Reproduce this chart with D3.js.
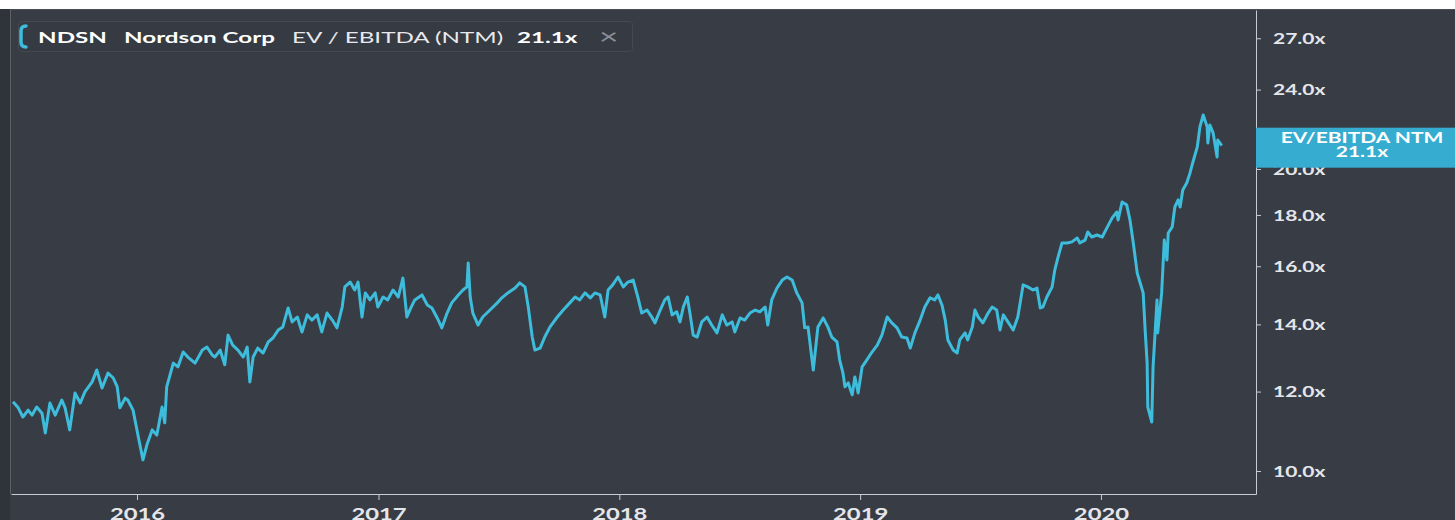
<!DOCTYPE html>
<html>
<head>
<meta charset="utf-8">
<script src="https://cdn.jsdelivr.net/npm/d3@7"></script>
<style>
  html, body { margin: 0; padding: 0; background: #383c45; overflow: hidden; }
  svg { display: block; }
  text { font-family: Lato, "Open Sans", sans-serif; }
</style>
</head>
<body>
<svg id="chart" width="1455" height="520"></svg>
<script>
// NDSN EV / EBITDA (NTM)
const dates = [
  "2015-06-27","2015-07-05","2015-07-12","2015-07-20","2015-07-26","2015-08-02","2015-08-10","2015-08-15",
  "2015-08-22","2015-08-30","2015-09-09","2015-09-14","2015-09-21","2015-09-29","2015-10-07","2015-10-14",
  "2015-10-25","2015-11-01","2015-11-09","2015-11-18","2015-11-26","2015-12-02","2015-12-06","2015-12-14",
  "2015-12-18","2015-12-26","2016-01-03","2016-01-10","2016-01-16","2016-01-24","2016-01-31","2016-02-08",
  "2016-02-12","2016-02-15","2016-02-25","2016-03-03","2016-03-11","2016-03-18","2016-03-29","2016-04-09",
  "2016-04-16","2016-04-24","2016-04-28","2016-05-06","2016-05-13","2016-05-18","2016-05-25","2016-06-02",
  "2016-06-10","2016-06-16","2016-06-20","2016-06-25","2016-07-02","2016-07-10","2016-07-18","2016-07-25",
  "2016-08-02","2016-08-09","2016-08-17","2016-08-23","2016-08-31","2016-09-07","2016-09-15","2016-09-22",
  "2016-09-30","2016-10-07","2016-10-15","2016-10-23","2016-10-30","2016-11-07","2016-11-11","2016-11-19",
  "2016-11-26","2016-12-01","2016-12-07","2016-12-12","2016-12-19","2016-12-27","2016-12-31","2017-01-08",
  "2017-01-15","2017-01-23","2017-01-31","2017-02-07","2017-02-13","2017-02-19","2017-02-25","2017-03-08",
  "2017-03-16","2017-03-23","2017-03-31","2017-04-07","2017-04-15","2017-04-22","2017-05-02","2017-05-09",
  "2017-05-15","2017-05-17","2017-05-20","2017-05-24","2017-06-01","2017-06-08","2017-06-19","2017-06-30",
  "2017-07-07","2017-07-16","2017-07-27","2017-08-03","2017-08-11","2017-08-16","2017-08-22","2017-08-26",
  "2017-09-03","2017-09-10","2017-09-18","2017-09-29","2017-10-08","2017-10-18","2017-10-26","2017-11-02",
  "2017-11-10","2017-11-18","2017-11-25","2017-12-03","2017-12-10","2017-12-15","2017-12-22","2017-12-30",
  "2018-01-07","2018-01-14","2018-01-22","2018-01-29","2018-02-04","2018-02-12","2018-02-20","2018-02-24",
  "2018-03-04","2018-03-11","2018-03-16","2018-03-22","2018-03-29","2018-04-03","2018-04-08","2018-04-14",
  "2018-04-18","2018-04-23","2018-04-29","2018-05-06","2018-05-14","2018-05-21","2018-05-29","2018-06-06",
  "2018-06-13","2018-06-21","2018-06-25","2018-07-03","2018-07-10","2018-07-18","2018-07-26","2018-08-02",
  "2018-08-10","2018-08-14","2018-08-20","2018-08-28","2018-09-05","2018-09-12","2018-09-20","2018-09-27",
  "2018-10-05","2018-10-09","2018-10-14","2018-10-22","2018-10-29","2018-11-06","2018-11-13","2018-11-19",
  "2018-11-27","2018-12-01","2018-12-06","2018-12-09","2018-12-14","2018-12-20","2018-12-24","2018-12-29",
  "2019-01-04","2019-01-11","2019-01-19","2019-01-27","2019-02-03","2019-02-11","2019-02-18","2019-02-26",
  "2019-03-05","2019-03-13","2019-03-18","2019-03-25","2019-04-02","2019-04-09","2019-04-17","2019-04-24",
  "2019-04-29","2019-05-05","2019-05-10","2019-05-14","2019-05-22","2019-05-28","2019-06-01","2019-06-09",
  "2019-06-13","2019-06-20","2019-06-24","2019-06-29","2019-07-06","2019-07-14","2019-07-20","2019-07-27",
  "2019-08-01","2019-08-06","2019-08-13","2019-08-21","2019-08-28","2019-09-05","2019-09-12","2019-09-20",
  "2019-09-26","2019-10-01","2019-10-05","2019-10-11","2019-10-19","2019-10-23","2019-10-28","2019-11-03",
  "2019-11-11","2019-11-18","2019-11-26","2019-11-30","2019-12-08","2019-12-12","2019-12-18","2019-12-26",
  "2020-01-03","2020-01-10","2020-01-18","2020-01-25","2020-01-27","2020-02-02","2020-02-09","2020-02-14",
  "2020-02-19","2020-02-25","2020-02-29","2020-03-05","2020-03-08","2020-03-11","2020-03-12","2020-03-18",
  "2020-03-20","2020-03-26","2020-03-27","2020-04-02","2020-04-06","2020-04-10","2020-04-12","2020-04-18",
  "2020-04-22","2020-04-27","2020-04-30","2020-05-04","2020-05-10","2020-05-15","2020-05-19","2020-05-26",
  "2020-05-30","2020-06-04","2020-06-10","2020-06-11","2020-06-14","2020-06-19","2020-06-25","2020-06-26",
  "2020-07-02"
];

const multiples = [
  11.72,11.56,11.32,11.50,11.37,11.58,11.42,10.91,
  11.69,11.37,11.77,11.56,10.99,11.96,11.69,11.99,
  12.27,12.61,12.10,12.52,12.38,12.13,11.56,11.82,
  11.77,11.50,10.81,10.26,10.62,10.99,10.86,11.58,
  11.17,12.13,12.81,12.70,13.14,12.99,12.81,13.20,
  13.29,13.05,12.99,13.20,12.76,13.66,13.35,13.20,
  12.99,13.29,12.27,12.99,13.26,13.11,13.45,13.57,
  13.82,13.92,14.54,14.08,14.24,13.76,14.31,14.14,
  14.31,13.76,14.37,14.14,13.89,14.57,15.26,15.43,
  15.15,15.43,14.24,15.05,14.81,15.05,14.57,14.91,
  14.81,15.15,14.91,15.57,14.24,14.54,14.81,14.98,
  14.64,14.54,14.21,13.89,14.37,14.71,14.98,15.15,
  15.26,16.12,14.91,14.37,13.98,14.24,14.47,14.71,
  14.88,15.05,15.22,15.40,15.26,14.57,13.60,13.20,
  13.26,13.60,13.92,14.24,14.47,14.71,14.91,14.81,
  15.05,14.88,15.05,14.98,14.24,15.15,15.33,15.61,
  15.26,15.43,15.50,14.91,14.37,14.47,14.21,14.05,
  14.47,14.81,14.91,14.31,14.41,14.08,14.57,14.91,
  14.37,13.66,13.60,14.08,14.24,13.98,13.73,14.31,
  13.98,14.08,13.76,14.21,14.14,14.37,14.47,14.41,
  14.57,13.98,14.81,15.22,15.50,15.61,15.50,15.05,
  14.71,13.89,13.92,12.61,13.92,14.21,13.92,13.60,
  13.45,12.90,12.52,12.13,12.24,11.91,12.41,11.96,
  12.70,12.90,13.14,13.35,13.66,14.24,14.05,13.89,
  13.60,13.57,13.26,13.73,14.14,14.57,14.88,14.81,
  14.98,14.64,14.14,13.51,13.20,13.11,13.51,13.73,
  13.51,13.92,14.47,14.24,14.05,14.37,14.57,14.47,
  13.82,14.31,14.08,13.82,14.24,15.33,15.26,15.15,
  15.22,14.54,14.57,14.91,15.26,15.86,16.34,16.88,
  16.88,16.92,17.07,16.88,16.99,17.31,17.11,17.19,
  17.11,17.47,17.88,18.12,17.79,18.54,18.42,17.79,
  16.88,15.75,15.43,15.05,13.82,12.81,11.58,11.19,
  12.70,14.81,13.73,15.05,16.99,16.23,17.27,17.51,
  18.33,18.63,18.33,19.06,19.37,19.82,20.28,21.04,
  22.03,22.64,22.03,21.23,22.13,21.73,20.56,21.38,
  21.10
];

const yTicks = [10, 12, 14, 16, 18, 20, 24, 27];
const xTickYears = [2016, 2017, 2018, 2019, 2020];
const legendItems = ["NDSN", "Nordson Corp", "EV / EBITDA (NTM)", "21.1x", "\u00d7"];
const badgeLines = ["EV/EBITDA NTM", "21.1x"];

const parse = d3.utcParse("%Y-%m-%d");
const data = dates.map((d, i) => ({ date: parse(d), value: multiples[i] }));

// the screenshot is stretched sideways, so text gets the same treatment
const SX = 1.4;
const lineColor = "#3dbcdc";

const svg = d3.select("#chart");
const W = 1455, H = 520;
const plot = { left: 11, right: 1256, top: 10, bottom: 494 };

svg.append("rect").attr("width", W).attr("height", H).attr("fill", "#383c45");
svg.append("rect").attr("width", W).attr("height", 9).attr("fill", "#ffffff");
svg.append("rect").attr("x", 0).attr("y", 9).attr("width", 10).attr("height", H - 9).attr("fill", "#30333a");
svg.append("line").attr("x1", 10.5).attr("x2", 10.5).attr("y1", 9).attr("y2", plot.bottom)
  .attr("stroke", "#5b5f67");
svg.append("line").attr("x1", 10).attr("x2", W).attr("y1", 9.5).attr("y2", 9.5)
  .attr("stroke", "#4a4e56");

const x = d3.scaleUtc()
  .domain([parse("2015-06-24"), parse("2020-08-23")])
  .range([plot.left, plot.right]);

const y = d3.scaleLog()
  .domain([9.486, 28.81])
  .range([plot.bottom, plot.top]);

// x axis
const xAxis = svg.append("g")
  .attr("transform", `translate(0,${plot.bottom})`)
  .call(d3.axisBottom(x)
    .tickValues(xTickYears.map(yr => new Date(Date.UTC(yr, 0, 1))))
    .tickFormat(d3.utcFormat("%Y"))
    .tickSizeInner(6)
    .tickSizeOuter(0));
xAxis.select(".domain").attr("stroke", "#c9ccd2");
xAxis.selectAll(".tick line").attr("stroke", "#c9ccd2");
xAxis.selectAll(".tick text")
  .attr("y", 0).attr("dy", 0)
  .attr("transform", `translate(0,26) scale(${SX},1)`)
  .attr("fill", "#e4e6ea")
  .style("font-size", "17px")
  .style("font-weight", 700);

// y axis on the right
const yAxis = svg.append("g")
  .attr("transform", `translate(${plot.right},0)`)
  .call(d3.axisRight(y)
    .tickValues(yTicks)
    .tickFormat(d => d.toFixed(1) + "x")
    .tickSizeInner(5)
    .tickSizeOuter(0));
yAxis.select(".domain").attr("stroke", "#c9ccd2");
yAxis.selectAll(".tick line").attr("stroke", "#c9ccd2");
yAxis.selectAll(".tick text")
  .attr("x", 0).attr("dy", "0.34em")
  .attr("transform", `translate(17,0) scale(${SX},1)`)
  .attr("fill", "#e4e6ea")
  .style("font-size", "15px")
  .style("font-weight", 700);

// the series
const line = d3.line()
  .x(d => x(d.date))
  .y(d => y(d.value));

svg.append("path")
  .datum(data)
  .attr("fill", "none")
  .attr("stroke", lineColor)
  .attr("stroke-width", 3)
  .attr("stroke-linejoin", "round")
  .attr("d", line);

// last-value badge
const last = data[data.length - 1];
const by = y(last.value);
const badge = svg.append("g");
badge.append("rect")
  .attr("x", plot.right).attr("y", by - 18)
  .attr("width", W - plot.right).attr("height", 40)
  .attr("fill", "#36acd0");
badge.selectAll("text")
  .data(badgeLines)
  .join("text")
  .attr("text-anchor", "middle")
  .attr("transform", (d, i) => `translate(1362,${by - 3 + i * 14}) scale(${SX},1)`)
  .attr("fill", "#ffffff")
  .style("font-size", "15px")
  .style("font-weight", 700)
  .text(d => d);

// legend box
const legend = svg.append("g");
legend.append("rect")
  .attr("x", 18.5).attr("y", 21.5).attr("width", 614).attr("height", 30).attr("rx", 3)
  .attr("fill", "#363a42").attr("stroke", "#454952");
legend.append("path")
  .attr("d", "M26,26 Q21,26 21,31 L21,42 Q21,47 26,47")
  .attr("fill", "none").attr("stroke", lineColor).attr("stroke-width", 3.5)
  .attr("stroke-linecap", "round");

const legendX = [38, 124, 292, 517, 599];
const legendWeight = [700, 700, 400, 700, 400];
const legendColor = ["#ffffff", "#ffffff", "#e8e9ec", "#ffffff", "#8b8f97"];
legend.selectAll("text")
  .data(legendItems)
  .join("text")
  .attr("transform", (d, i) => `translate(${legendX[i]},${i === 4 ? 44 : 43}) scale(${SX * 1.08},1)`)
  .attr("fill", (d, i) => legendColor[i])
  .style("font-size", (d, i) => i === 4 ? "22px" : "16px")
  .style("font-weight", (d, i) => legendWeight[i])
  .text(d => d);
</script>
</body>
</html>
